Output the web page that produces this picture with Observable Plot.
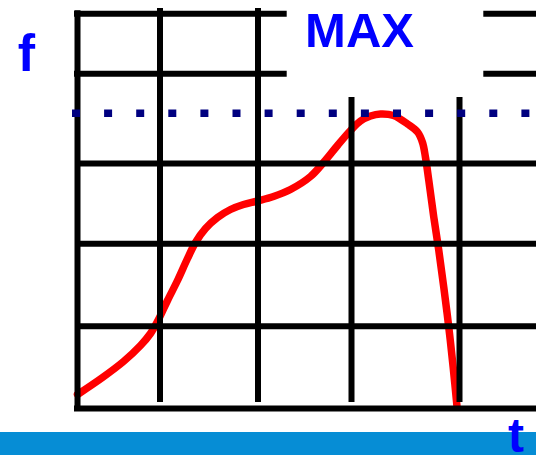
<!DOCTYPE html>
<html>
<head>
<meta charset="utf-8">
<script src="https://cdn.jsdelivr.net/npm/d3@7"></script>
<script src="https://cdn.jsdelivr.net/npm/@observablehq/plot@0.6"></script>
<style>
  html, body { margin: 0; padding: 0; background: #fff; overflow: hidden; }
  #chart svg { display: block; overflow: hidden; }
</style>
</head>
<body>
<div id="chart"></div>
<script>
// Curve f(t) (t and f in arbitrary chart units)
const curveT = [0, 2.5, 4.6, 6.3, 7.3, 8.1, 9.0, 10.0, 11.0, 11.8, 12.8, 14.0, 15.3, 16.6, 18.0, 19.6, 21.3, 23.3, 24.6, 26.0, 27.3, 28.3, 29.3, 30.3, 31.6, 33.0, 34.0, 34.5, 34.8, 35.13, 35.63, 36.13, 36.63, 37.13, 37.57, 37.95];
const curveF = [1.4, 3.1, 4.7, 6.3, 7.5, 8.9, 10.8, 12.8, 15.0, 16.6, 18.0, 19.1, 19.9, 20.4, 20.75, 21.2, 21.9, 23.2, 24.6, 26.3, 27.8, 28.75, 29.25, 29.45, 29.3, 28.45, 27.65, 26.6, 25.1, 22.8, 19.13, 15.8, 12.1, 8.1, 4.1, 0.2];

// Grid: vertical lines (t position, top and bottom in f units)
const vLineT = [0, 8.25, 18.05, 27.4, 38.2];
const vLineTop = [39.77, 40.0, 40.0, 31.1, 31.1];
const vLineBottom = [-0.3, 0.6, 0.6, 0.6, 0.6];

// Grid: horizontal lines (f position, start and end in t units)
const hLineF = [39.47, 39.47, 33.47, 33.47, 24.5, 16.47, 8.23, 0];
const hLineStart = [-0.3, 40.63, -0.3, 40.63, 0, 0, 0, -0.3];
const hLineEnd = [20.97, 47, 20.97, 47, 47, 47, 47, 47];

// Maximum level (dotted line)
const maxLevel = 29.52;
const maxLineStart = -0.5;
const maxLineEnd = 47;

// Labels
const labelText = ["f", "MAX", "t"];
const labelT = [-5.1, 28.2, 43.85];
const labelF = [33.75, 36.2, -4.3];
const labelSize = [52, 49, 48];

// Bottom band
const bandT = [-8, 47];
const bandF = [-2.4, -5];

const curve = curveT.map((t, i) => ({t, f: curveF[i]}));
const vLines = vLineT.map((t, i) => ({t, y1: vLineTop[i], y2: vLineBottom[i]}));
const hLines = hLineF.map((f, i) => ({f, x1: hLineStart[i], x2: hLineEnd[i]}));
const labels = labelText.map((s, i) => ({s, t: labelT[i], f: labelF[i], size: labelSize[i]}));

const chart = Plot.plot({
  width: 536,
  height: 455,
  marginLeft: 77,
  marginRight: 0,
  marginTop: 0,
  marginBottom: 47,
  x: {domain: [0, 45.9], axis: null},
  y: {domain: [0, 40.8], axis: null},
  style: {background: "#fff"},
  marks: [
    Plot.rect([{}], {x1: bandT[0], x2: bandT[1], y1: bandF[0], y2: bandF[1], fill: "#068dd5"}),
    Plot.line(curve, {x: "t", y: "f", stroke: "#ff0000", strokeWidth: 7.5, curve: "catmull-rom"}),
    Plot.ruleX(vLines, {x: "t", y1: "y1", y2: "y2", stroke: "#000", strokeWidth: 6}),
    Plot.ruleY(hLines, {y: "f", x1: "x1", x2: "x2", stroke: "#000", strokeWidth: 6}),
    Plot.ruleY([maxLevel], {x1: maxLineStart, x2: maxLineEnd, stroke: "#000080", strokeWidth: 7.5, strokeDasharray: "8,24.1"}),
    ...labels.map(d => Plot.text([d], {
      x: "t", y: "f", text: "s", fill: "#0000ff",
      fontSize: d.size, fontWeight: "bold", fontFamily: "Liberation Sans, Arial, sans-serif",
      lineAnchor: "bottom", textAnchor: "middle"
    }))
  ]
});
document.getElementById("chart").appendChild(chart);
</script>
</body>
</html>
